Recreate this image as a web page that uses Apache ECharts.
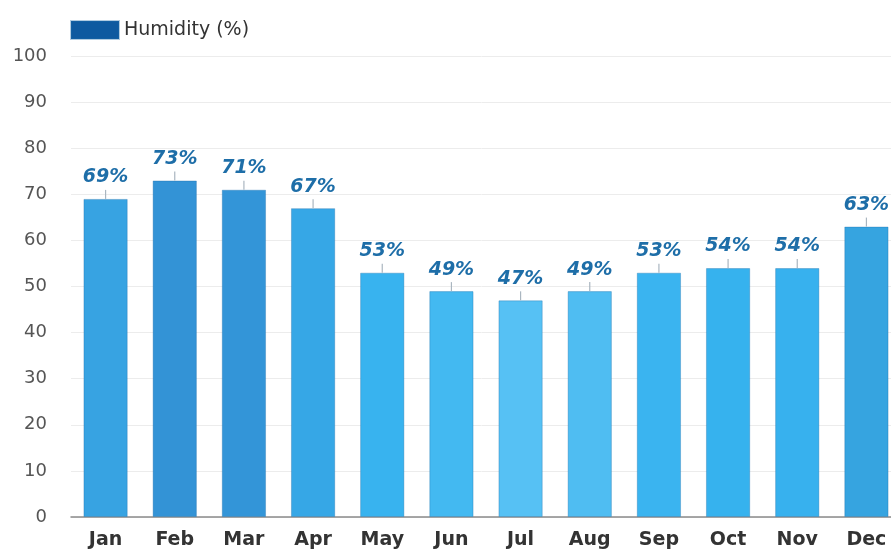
<!DOCTYPE html>
<html>
<head>
<meta charset="utf-8">
<script src="https://cdn.jsdelivr.net/npm/echarts@6/dist/echarts.min.js"></script>
<style>
html, body { margin: 0; padding: 0; background: #fff; }
#chart { width: 891px; height: 551px; }
</style>
</head>
<body>
<div id="chart"></div>
<script>
// data
var months = ['Jan', 'Feb', 'Mar', 'Apr', 'May', 'Jun', 'Jul', 'Aug', 'Sep', 'Oct', 'Nov', 'Dec'];
var humidity = [69, 73, 71, 67, 53, 49, 47, 49, 53, 54, 54, 63];
var barColors = ['#37a3e2', '#3393d6', '#3395d8', '#36a7e6', '#38b3ef', '#43b9f1', '#56c1f4', '#4fbdf2', '#3ab4f0', '#36b2ee', '#37b1ee', '#36a4e0'];
var yTicks = [0, 10, 20, 30, 40, 50, 60, 70, 80, 90, 100];

var chart = echarts.init(document.getElementById('chart'));

var barData = humidity.map(function (v, i) {
  return { value: v, itemStyle: { color: barColors[i] } };
});

chart.setOption({
  animation: false,
  textStyle: { fontFamily: 'DejaVu Sans, sans-serif' },
  legend: {
    left: 70,
    top: 20,
    padding: 0,
    itemWidth: 48,
    itemHeight: 18,
    itemGap: 6,
    icon: 'rect',
    data: ['Humidity (%)'],
    textStyle: { fontSize: 19, color: '#333' }
  },
  grid: { left: 71, right: -10, top: 56, bottom: 34, outerBoundsMode: 'none' },
  xAxis: {
    type: 'category',
    data: months,
    axisTick: { show: false },
    axisLine: { lineStyle: { color: '#8a8a8a', width: 1.5 } },
    axisLabel: { fontSize: 19, fontWeight: 'bold', color: '#333', margin: 14 }
  },
  yAxis: {
    type: 'value',
    min: yTicks[0],
    max: yTicks[yTicks.length - 1],
    interval: 10,
    axisLine: { show: false },
    axisTick: { show: false },
    axisLabel: { fontSize: 18, color: '#555', margin: 24 },
    splitLine: { lineStyle: { color: '#ececec' } }
  },
  series: [
    {
      name: 'Humidity (%)',
      type: 'bar',
      barWidth: '64%',
      data: barData,
      itemStyle: { color: '#0d5aa0', borderColor: 'rgba(30,110,170,0.35)', borderWidth: 1 },
      label: {
        show: true,
        position: 'top',
        distance: 12,
        formatter: '{c}%',
        fontSize: 19,
        fontWeight: 'bold',
        fontStyle: 'italic',
        color: '#1e6ea8'
      },
      z: 2
    },
    {
      // small tick line above each bar
      type: 'custom',
      data: humidity.map(function (v, i) { return [i, v]; }),
      renderItem: function (params, api) {
        var p = api.coord([api.value(0), api.value(1)]);
        return {
          type: 'line',
          shape: { x1: p[0], y1: p[1], x2: p[0], y2: p[1] - 9 },
          style: { stroke: '#aab6c0', lineWidth: 1.2 }
        };
      },
      z: 3,
      silent: true
    }
  ]
});
</script>
</body>
</html>
